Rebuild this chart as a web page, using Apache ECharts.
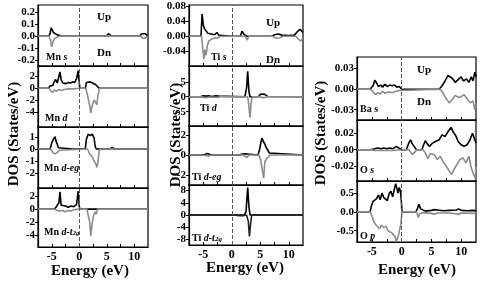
<!DOCTYPE html>
<html>
<head>
<meta charset="utf-8">
<script src="https://cdn.jsdelivr.net/npm/echarts@6/dist/echarts.min.js"></script>
<style>
  html, body { margin: 0; padding: 0; background: #fff; }
  #dos { width: 481px; height: 283px; }
</style>
</head>
<body>
<div id="dos"></div>
<script>
// energy axis ticks (eV)
var energyTicks = [-5, 0, 5, 10];

// ---- Mn ----
var mnSUp = [[-7.5,0],[-5.6,0],[-5.3,0.02],[-5.1,0.07],[-4.9,0.06],[-4.7,0.03],[-4.4,0.02],[-4,0.01],[-3.5,0.005],[-3,0],[5,0],[5.3,0.02],[5.6,0.015],[5.9,0],[11,0],[11.4,0.02],[11.7,0.03],[12,0.02],[12.3,0.01],[12.5,0]];
var mnSDn = [[-7.5,0],[-5.5,0],[-5.2,-0.04],[-5.0,-0.09],[-4.8,-0.05],[-4.5,-0.02],[-4,-0.01],[-3.5,0],[5.1,0],[5.4,-0.01],[5.7,0],[11.2,0],[11.6,-0.02],[12,-0.015],[12.5,0]];
var mnDUp = [[-7.5,0],[-5.6,0],[-5.3,0.4],[-5,0.7],[-4.8,0.5],[-4.6,1.0],[-4.3,1.5],[-4.0,0.9],[-3.7,1.2],[-3.5,2.8],[-3.3,1.5],[-3.0,0.9],[-2.7,1.2],[-2.4,0.8],[-2,1.0],[-1.6,0.9],[-1.2,1.1],[-0.8,1.0],[-0.5,1.6],[-0.2,3.0],[0,1.0],[0.1,0],[1.1,0],[1.3,1.0],[1.6,1.3],[2.0,1.1],[2.4,0.9],[2.7,1.2],[3.0,0.6],[3.3,0.3],[3.6,0],[5.6,0],[5.9,0.1],[6.3,0],[12.5,0]];
var mnDDn = [[-7.5,0],[-5.5,0],[-5.2,-0.4],[-4.8,-0.7],[-4.5,-0.3],[-4.1,-0.5],[-3.7,-0.2],[-3.2,-0.4],[-2.8,-0.2],[-2,-0.1],[-1,-0.1],[0,0],[1.2,0],[1.5,-1.2],[1.8,-2.5],[2.1,-4.2],[2.4,-2.8],[2.7,-2.0],[3.0,-2.2],[3.2,-2.8],[3.4,-1.2],[3.7,0],[5.6,0],[5.9,-0.1],[6.3,0],[12.5,0]];
var mnEgUp = [[-7.5,0],[-5.3,0],[-5.0,0.5],[-4.7,0.8],[-4.4,1.0],[-4.2,0.6],[-4.0,0.4],[-3.8,0.1],[-3.5,0],[-1.2,0],[-1,0.05],[-0.8,0],[1.1,0],[1.3,0.8],[1.6,1.2],[2.0,1.1],[2.4,1.2],[2.7,0.9],[2.9,0.2],[3.1,0],[5.6,0],[6.0,0.12],[6.4,0],[12.5,0]];
var mnEgDn = [[-7.5,0],[-5.2,0],[-4.8,-0.3],[-4.4,-0.4],[-4,-0.3],[-3.6,-0.1],[-3.3,0],[1.5,0],[1.9,-0.4],[2.3,-0.6],[2.7,-1.0],[3.0,-1.2],[3.2,-1.5],[3.4,-1.1],[3.6,-0.2],[3.8,0],[5.7,0],[6.0,-0.1],[6.3,0],[12.5,0]];
var mnT2gUp = [[-7.5,0],[-4.7,0],[-4.3,0.2],[-4.0,0.5],[-3.7,1.0],[-3.5,2.7],[-3.3,0.6],[-3.0,0.4],[-2.5,0.5],[-2,0.3],[-1.5,0.5],[-1,0.4],[-0.5,0.7],[-0.2,2.8],[0,0.5],[0.1,0],[2.9,0],[3.1,0.3],[3.3,0],[12.5,0]];
var mnT2gDn = [[-7.5,0],[-4.5,0],[-4,-0.2],[-3.5,-0.3],[-3,-0.2],[-2.6,-0.4],[-2,-0.2],[-1.5,-0.3],[-1,-0.1],[0,0],[1.4,0],[1.6,-0.8],[1.9,-2.0],[2.1,-4.2],[2.3,-2.5],[2.6,-1.0],[2.9,-0.4],[3.1,-0.8],[3.3,0],[12.5,0]];

// ---- Ti ----
var tiSUp = [[-7.5,0],[-5.4,0],[-5.2,0.058],[-5.0,0.03],[-4.8,0.02],[-4.5,0.015],[-4.2,0.008],[-3.9,0.012],[-3.6,0.006],[-3.0,0.004],[-2.6,0.01],[-2.3,0.003],[-1.5,0.002],[0,0],[1.5,0],[1.8,0.013],[2.2,0.004],[2.6,0],[7.0,0],[7.5,0.004],[8.2,0.006],[8.8,0.003],[10,0.002],[11,0.003],[11.5,0.012],[12.0,0.018],[12.5,0.01]];
var tiSDn = [[-7.5,0],[-5.3,0],[-5.1,-0.03],[-4.9,-0.06],[-4.7,-0.035],[-4.5,-0.05],[-4.3,-0.025],[-4.0,-0.012],[-3.6,-0.008],[-3,-0.004],[-2.5,-0.005],[-2,0],[2.4,0],[2.7,-0.01],[3.0,0],[7.2,0],[7.8,-0.005],[8.4,-0.004],[9,0],[11.3,0],[11.7,-0.008],[12.1,-0.012],[12.5,-0.006]];
var tiDUp = [[-7.5,0],[-5.5,0],[-5,0.3],[-4.5,0.2],[-4,0.3],[-3.5,0.1],[-2.8,0.3],[-2.3,0.2],[-2,0],[2.3,0],[2.6,3],[2.8,8.5],[3.0,2],[3.2,0],[4.7,0],[5.0,0.8],[5.3,1.2],[5.7,0.9],[6.0,0.5],[6.3,0.1],[6.6,0],[12.5,0]];
var tiDDn = [[-7.5,0],[-5.5,0],[-5,-0.2],[-4.5,-0.3],[-4,-0.1],[-2.5,-0.2],[-2,0],[2.8,0],[3.0,-3],[3.2,-7],[3.4,-2],[3.6,0],[4.8,0],[5.1,-0.5],[5.5,-0.3],[5.9,-0.2],[6.3,0],[12.5,0]];
var tiEgUp = [[-7.5,0],[-5.3,0],[-5,0.15],[-4.7,0.05],[-4.3,0.15],[-4,0.05],[-3.6,0],[-2.5,0],[-2.3,0.05],[-2,0],[1.2,0],[1.5,0.15],[1.9,0.1],[2.3,0.12],[2.6,0],[4.6,0],[4.9,0.6],[5.1,1.2],[5.3,1.7],[5.5,1.4],[5.8,1.1],[6.0,0.8],[6.3,0.6],[6.6,0.2],[6.8,0],[12.5,0]];
var tiEgDn = [[-7.5,0],[-5.3,0],[-5,-0.15],[-4.6,-0.05],[-4.3,-0.2],[-4,-0.1],[-3.6,0],[2,0],[2.3,-0.15],[2.7,-0.25],[3.0,0],[4.8,0],[5.1,-0.6],[5.4,-0.8],[5.6,-2.3],[5.8,-0.7],[6.1,-0.4],[6.4,-0.2],[6.7,0],[12.5,0]];
var tiT2gUp = [[-7.5,0],[-2.7,0],[-2.4,0.3],[-2.1,0],[2.2,0],[2.5,1],[2.8,9],[3.0,3],[3.2,0],[12.5,0]];
var tiT2gDn = [[-7.5,0],[-2.6,0],[-2.3,-0.3],[-2.0,0],[0.8,0],[1.2,-0.2],[2,-0.2],[2.6,0],[2.9,-2],[3.1,-7],[3.3,-3],[3.5,0],[12.5,0]];

// ---- Ba / O ----
var baSUp = [[-7.5,0],[-5.3,0],[-4.8,0.005],[-4.5,0.013],[-4.2,0.009],[-3.9,0.004],[-3.5,0.006],[-3.2,0.003],[-2.8,0.007],[-2.4,0.004],[-2,0.006],[-1.6,0.005],[-1.2,0.006],[-0.8,0.003],[-0.4,0.004],[0,0],[3.2,0],[3.4,0.002],[3.6,0],[6.3,0],[6.8,0.005],[7.3,0.012],[7.8,0.02],[8.1,0.022],[8.5,0.016],[9.0,0.01],[9.5,0.014],[10.0,0.018],[10.4,0.012],[10.9,0.015],[11.3,0.01],[11.7,0.018],[12.0,0.012],[12.3,0.025],[12.5,0.018]];
var baSDn = [[-7.5,0],[-5.2,0],[-4.8,-0.004],[-4.4,-0.008],[-4,-0.005],[-3.6,-0.007],[-3.2,-0.003],[-2.8,-0.006],[-2.2,-0.004],[-1.5,-0.005],[-1,-0.003],[-0.3,-0.002],[0,0],[6.5,0],[7.0,-0.006],[7.5,-0.014],[8.0,-0.02],[8.5,-0.015],[9.0,-0.009],[9.5,-0.012],[10,-0.011],[10.5,-0.008],[11,-0.014],[11.5,-0.02],[12,-0.017],[12.3,-0.03],[12.5,-0.02]];
var oSUp = [[-7.5,0],[-5.3,0],[-5,0.002],[-4.5,0.001],[-4,0.002],[-3.5,0.001],[-3,0.002],[-2.5,0.001],[-2,0.002],[-1.5,0.001],[-0.9,0.004],[-0.5,0.002],[0,0],[0.8,0],[1.2,0.008],[1.5,0.012],[1.8,0.007],[2.1,0.004],[2.5,0],[3.4,0],[3.7,0.006],[4.0,0.011],[4.3,0.007],[4.7,0.004],[5.2,0.008],[5.7,0.01],[6.3,0.012],[6.8,0.018],[7.3,0.016],[7.8,0.022],[8.3,0.027],[8.7,0.021],[9.1,0.017],[9.5,0.01],[10.0,0.006],[10.5,0.004],[11,0.006],[11.5,0.012],[11.9,0.02],[12.2,0.014],[12.5,0.008]];
var oSDn = [[-7.5,0],[-5,0],[-4.5,-0.001],[-3,-0.001],[-1.5,-0.001],[0,0],[1.2,0],[1.5,-0.003],[1.8,-0.006],[2.2,-0.003],[2.6,0],[3.6,0],[4.0,-0.004],[4.4,-0.011],[4.8,-0.005],[5.5,-0.006],[6.0,-0.012],[6.5,-0.008],[7.0,-0.015],[7.5,-0.02],[8.0,-0.026],[8.4,-0.03],[8.8,-0.024],[9.3,-0.018],[9.8,-0.012],[10.3,-0.01],[10.8,-0.016],[11.3,-0.008],[11.7,-0.022],[12.1,-0.03],[12.4,-0.035],[12.5,-0.02]];
var oPUp = [[-7.5,0],[-5.3,0],[-5.1,0.15],[-4.8,0.28],[-4.5,0.3],[-4.2,0.35],[-3.9,0.45],[-3.6,0.32],[-3.3,0.5],[-3.0,0.38],[-2.7,0.42],[-2.4,0.3],[-2.1,0.48],[-1.8,0.55],[-1.5,0.4],[-1.2,0.62],[-1.0,0.75],[-0.8,0.7],[-0.6,0.5],[-0.4,0.65],[-0.2,0.55],[-0.05,0.3],[0.05,0],[2.4,0],[2.7,0.1],[2.9,0.2],[3.2,0.08],[3.5,0.05],[4.0,0.02],[5.0,0.04],[5.5,0.06],[6.0,0.05],[7,0.03],[8,0.04],[9.2,0.05],[9.6,0.08],[10,0.04],[11,0.03],[12,0.04],[12.5,0.03]];
var oPDn = [[-7.5,0],[-5.3,0],[-5.0,-0.1],[-4.7,-0.25],[-4.3,-0.35],[-4.0,-0.3],[-3.7,-0.45],[-3.4,-0.35],[-3.0,-0.42],[-2.6,-0.38],[-2.3,-0.5],[-2.0,-0.45],[-1.7,-0.55],[-1.4,-0.5],[-1.1,-0.65],[-0.9,-0.8],[-0.7,-0.7],[-0.5,-0.6],[-0.3,-0.65],[-0.1,-0.3],[0.05,0],[2.5,0],[2.8,-0.15],[3.0,-0.05],[3.3,-0.1],[3.6,-0.02],[5.0,-0.04],[5.5,-0.06],[6,-0.03],[8,-0.03],[9.2,-0.05],[9.6,-0.07],[10,-0.03],[12.5,-0.04]];

// y ticks per panel
var mnSTicks = [0.2, 0.1, 0, -0.1, -0.2];
var mnDTicks = [2, 0, -2, -4];
var mnEgTicks = [1, 0, -1, -2];
var mnT2gTicks = [2, 0, -2, -4];
var tiSTicks = [0.08, 0.04, 0, -0.04];
var tiDTicks = [5, 0, -5];
var tiEgTicks = [2, 0, -2];
var tiT2gTicks = [8, 4, 0, -4, -8];
var baSTicks = [0.03, 0, -0.03];
var oSTicks = [0.02, 0, -0.02];
var oPTicks = [0.5, 0, -0.5];

var panels = [
  { box: [38, 5, 110, 61],  min: -0.25, max: 0.26, ticks: mnSTicks, dec: 1, up: mnSUp, dn: mnSDn },
  { box: [38, 66, 110, 61], min: -6.6, max: 3.8, ticks: mnDTicks, dec: 0, up: mnDUp, dn: mnDDn },
  { box: [38, 127, 110, 61], min: -3.2, max: 1.8, ticks: mnEgTicks, dec: 0, up: mnEgUp, dn: mnEgDn },
  { box: [38, 188, 110, 59], min: -5.9, max: 3.3, ticks: mnT2gTicks, dec: 0, up: mnT2gUp, dn: mnT2gDn, bottom: true },
  { box: [189, 5, 114, 61], min: -0.078, max: 0.082, ticks: tiSTicks, dec: 2, up: tiSUp, dn: tiSDn },
  { box: [189, 66, 114, 60], min: -9.8, max: 10.3, ticks: tiDTicks, dec: 0, up: tiDUp, dn: tiDDn },
  { box: [189, 126, 114, 59], min: -3, max: 2.9, ticks: tiEgTicks, dec: 0, up: tiEgUp, dn: tiEgDn },
  { box: [189, 185, 114, 60], min: -9.8, max: 9.8, ticks: tiT2gTicks, dec: 0, up: tiT2gUp, dn: tiT2gDn, dnColor: '#222', bottom: true },
  { box: [357, 57, 119, 63], min: -0.045, max: 0.047, ticks: baSTicks, dec: 2, up: baSUp, dn: baSDn },
  { box: [357, 120, 119, 61], min: -0.038, max: 0.036, ticks: oSTicks, dec: 2, up: oSUp, dn: oSDn },
  { box: [357, 181, 119, 61], min: -0.8, max: 0.82, ticks: oPTicks, dec: 1, up: oPUp, dn: oPDn, bottom: true }
];

var font = 'Liberation Serif';
var grid = [], xAxis = [], yAxis = [], series = [];

panels.forEach(function (p, i) {
  grid.push({
    left: p.box[0], top: p.box[1], width: p.box[2], height: p.box[3],
    show: true, borderColor: '#000', borderWidth: 1.2, backgroundColor: 'transparent'
  });
  xAxis.push({
    type: 'value', gridIndex: i, min: -7.5, max: 12.5,
    splitLine: { show: false },
    axisLine: { show: true, onZero: false, lineStyle: { color: '#000', width: 1.2 } },
    axisTick: { show: true, inside: true, length: 3, customValues: [-5, -2.5, 0, 2.5, 5, 7.5, 10], lineStyle: { color: '#000' } },
    axisLabel: {
      show: !!p.bottom, customValues: energyTicks, margin: 4,
      color: '#000', fontFamily: font, fontWeight: 'bold', fontSize: 12
    }
  });
  yAxis.push({
    type: 'value', gridIndex: i, min: p.min, max: p.max,
    splitLine: { show: false },
    axisLine: { show: true, onZero: false, lineStyle: { color: '#000', width: 1.2 } },
    axisTick: { show: true, inside: false, length: 3, customValues: p.ticks, lineStyle: { color: '#000' } },
    axisLabel: {
      customValues: p.ticks, margin: 3,
      color: '#000', fontFamily: font, fontWeight: 'bold', fontSize: 11,
      formatter: (function (dec) {
        return function (v) { return v.toFixed(dec); };
      })(p.dec)
    }
  });
  // spin up (black) first, spin down (grey) drawn over it so the zero line reads grey
  series.push({
    type: 'line', xAxisIndex: i, yAxisIndex: i, data: p.up,
    showSymbol: false, symbol: 'none',
    lineStyle: { color: '#000', width: 1.6 }, z: 2,
    markLine: {
      silent: true, symbol: 'none', label: { show: false },
      lineStyle: { type: 'dashed', color: '#555', width: 1 },
      data: [{ xAxis: 0 }]
    }
  });
  series.push({
    type: 'line', xAxisIndex: i, yAxisIndex: i, data: p.dn,
    showSymbol: false, symbol: 'none',
    lineStyle: { color: p.dnColor || '#8c8c8c', width: 1.6 }, z: 3
  });
});

function txt(x, y, text, size) {
  return {
    type: 'text', x: x, y: y, z: 10,
    style: {
      text: text, fill: '#000', font: 'bold ' + size + 'px "' + font + '"',
      textVerticalAlign: 'middle',
      rich: {
        n: { fontFamily: font, fontWeight: 'bold', fontSize: size, fill: '#000' },
        i: { fontFamily: font, fontWeight: 'bold', fontStyle: 'italic', fontSize: size, fill: '#000' },
        sub: { fontFamily: font, fontWeight: 'bold', fontStyle: 'italic', fontSize: size - 3, fill: '#000', verticalAlign: 'bottom' }
      }
    }
  };
}

function yTitle(x, y) {
  return {
    type: 'text', x: x, y: y, rotation: Math.PI / 2, z: 10,
    style: {
      text: 'DOS (States/eV)', fill: '#000', font: 'bold 15px "' + font + '"',
      textAlign: 'center', textVerticalAlign: 'middle'
    }
  };
}

function xTitle(x, y) {
  return {
    type: 'text', x: x, y: y, z: 10,
    style: {
      text: 'Energy (eV)', fill: '#000', font: 'bold 15px "' + font + '"',
      textAlign: 'center', textVerticalAlign: 'middle'
    }
  };
}

var graphic = [
  yTitle(14, 134), yTitle(176, 135), yTitle(321, 133),
  xTitle(90, 271), xTitle(245, 268), xTitle(417, 270),
  txt(97, 17, 'Up', 11), txt(97, 53, 'Dn', 11),
  txt(266, 23, 'Up', 11), txt(266, 60, 'Dn', 11),
  txt(417, 70, 'Up', 11), txt(417, 102, 'Dn', 11),
  txt(46, 57, '{n|Mn }{i|s}', 10),
  txt(45, 118, '{n|Mn }{i|d}', 10),
  txt(44, 168, '{n|Mn }{i|d-eg}', 10),
  txt(44, 232, '{n|Mn }{i|d-t}{sub|2g}', 10),
  txt(211, 57, '{n|Ti }{i|s}', 10),
  txt(200, 108, '{n|Ti }{i|d}', 10),
  txt(192, 177, '{n|Ti }{i|d-eg}', 10),
  txt(192, 238, '{n|Ti }{i|d-t}{sub|2g}', 10),
  txt(360, 109, '{n|Ba s}', 10),
  txt(360, 170, '{n|O }{i|s}', 10),
  txt(360, 236, '{n|O }{i|p}', 10)
];

var myChart = echarts.init(document.getElementById('dos'));
var option = {
  animation: false,
  backgroundColor: '#fff',
  grid: grid,
  xAxis: xAxis,
  yAxis: yAxis,
  series: series,
  graphic: graphic
};
myChart.setOption(option);
</script>
</body>
</html>
